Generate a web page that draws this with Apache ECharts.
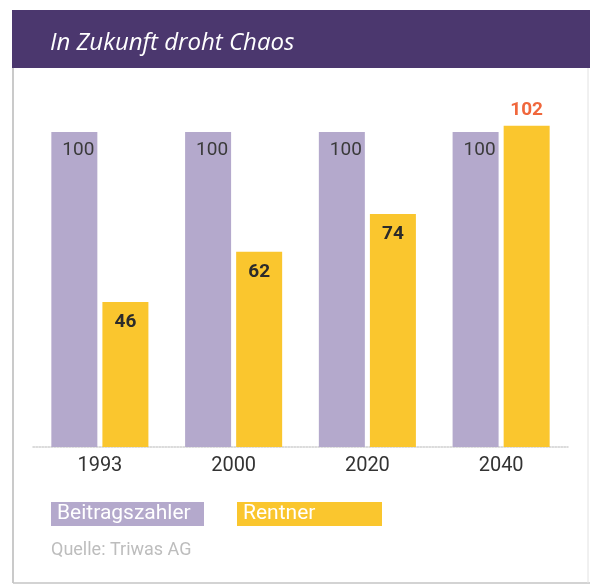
<!DOCTYPE html>
<html>
<head>
<meta charset="utf-8">
<script src="https://cdn.jsdelivr.net/npm/echarts@6/dist/echarts.min.js"></script>
<style>
  html, body { margin: 0; padding: 0; background: #fff; }
  #chart { width: 590px; height: 585px; }
</style>
</head>
<body>
<div id="chart"></div>
<script>
const years = ['1993', '2000', '2020', '2040']
const beitragszahler = [100, 100, 100, 100]
const rentner = [46, 62, 74, 102]
const titleText = 'In Zukunft droht Chaos'
const sourceText = 'Quelle: Triwas AG'

const purple = '#b4a9cc'
const yellow = '#fac62e'
const barFont = 'Roboto, "DejaVu Sans", sans-serif'

const chart = echarts.init(document.getElementById('chart'))

// last Rentner bar sticks out above 100, its label goes on top in orange
const rentnerData = rentner.map((v, i) => i === rentner.length - 1
  ? {value: v, label: {position: 'top', distance: 6, color: '#f0673c'}}
  : v)

chart.setOption({
  backgroundColor: '#fff',
  animation: false,
  title: {
    text: titleText,
    left: 45,
    top: 26,
    textStyle: {color: '#fff', fontSize: 24, fontStyle: 'italic', fontWeight: 'normal', fontFamily: '"Open Sans", sans-serif'}
  },
  legend: {
    left: 41,
    top: 497,
    itemWidth: 0,
    itemHeight: 0,
    itemGap: 28,
    icon: 'none',
    selectedMode: false,
    textStyle: {color: '#fff', fontSize: 21, fontFamily: barFont, padding: [2, 4, 2, 6], height: 20, lineHeight: 20},
    data: [
      {name: 'Beitragszahler', textStyle: {backgroundColor: purple, width: 143}},
      {name: 'Rentner', textStyle: {backgroundColor: yellow, width: 135}}
    ]
  },
  grid: {left: 33, right: 22, top: 100.5, bottom: 138},
  xAxis: {
    type: 'category',
    data: years,
    axisTick: {show: false},
    axisLine: {lineStyle: {color: '#cfcfcf', type: 'dotted', width: 1.5}},
    axisLabel: {color: '#333', fontSize: 20, margin: 9, fontFamily: barFont}
  },
  yAxis: {
    type: 'value',
    min: 0,
    max: 110,
    show: false,
    splitLine: {show: false}
  },
  series: [
    {
      name: 'Beitragszahler',
      type: 'bar',
      data: beitragszahler,
      barWidth: 46,
      barGap: '11%',
      itemStyle: {color: purple},
      label: {
        show: true,
        position: 'insideTopRight',
        distance: 3,
        offset: [0, 6],
        color: '#3a3a3a',
        fontSize: 19,
        fontFamily: barFont
      }
    },
    {
      name: 'Rentner',
      type: 'bar',
      data: rentnerData,
      barWidth: 46,
      itemStyle: {color: yellow},
      label: {
        show: true,
        position: 'insideTop',
        distance: 11,
        color: '#2b2b2b',
        fontSize: 19,
        fontWeight: 'bold',
        fontFamily: barFont
      }
    }
  ],
  graphic: [
    {type: 'rect', z: -1, shape: {x: 12, y: 10, width: 578, height: 58}, style: {fill: '#4b376e'}},
    {type: 'line', shape: {x1: 13, y1: 68, x2: 13, y2: 583}, style: {stroke: '#b8b8b8', lineWidth: 1.5}},
    {type: 'line', shape: {x1: 13, y1: 583, x2: 590, y2: 583}, style: {stroke: '#c4c4c4', lineWidth: 1.5}},
    {type: 'line', shape: {x1: 588, y1: 68, x2: 588, y2: 583}, style: {stroke: '#e2e2e2', lineWidth: 1}},
    {type: 'text', left: 51, top: 541, style: {text: sourceText, fill: '#bdbdbd', fontSize: 18, fontFamily: barFont}}
  ]
})
</script>
</body>
</html>
